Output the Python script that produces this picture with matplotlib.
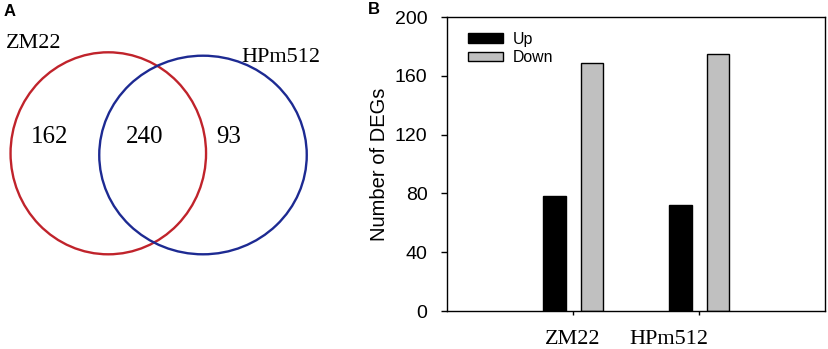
import matplotlib
matplotlib.use("Agg")
import matplotlib.pyplot as plt
from matplotlib.patches import Ellipse, Patch
import matplotlib.transforms as mtransforms

# ---- data ----
venn_sets = ["ZM22", "HPm512"]
venn_counts = [162, 240, 93]          # only ZM22, shared, only HPm512
categories = ["ZM22", "HPm512"]
up_values = [78, 72]
down_values = [169, 175]
y_ticks = [0, 40, 80, 120, 160, 200]

W, H = 829, 349
fig = plt.figure(figsize=(W / 100, H / 100), dpi=100)

serif = "Liberation Serif"
sans = "Liberation Sans"

# ---- Panel A: Venn ----
axv = fig.add_axes([0, 0, 420 / W, 1])
axv.set_xlim(0, 420)
axv.set_ylim(H, 0)
axv.axis("off")
axv.add_patch(Ellipse((108.3, 153.3), 195.5, 202, fill=False, edgecolor="#C0232B", lw=1.7))
axv.add_patch(Ellipse((203.0, 155.0), 207.5, 198.6, fill=False, edgecolor="#1D2A92", lw=1.7))
axv.text(33.5, 43, venn_sets[0], family=serif, fontsize=16, ha="center", va="center")
axv.text(280.5, 58, venn_sets[1], family=serif, fontsize=16, ha="center", va="center")
for x, c in zip([49.5, 145, 228.5], venn_counts):
    axv.text(x, 137, str(c), family=serif, fontsize=18, ha="center", va="center")
axv.text(9.5, 11, "A", family=sans, fontsize=12, fontweight="bold", ha="center", va="center")

# ---- Panel B: bars ----
ax = fig.add_axes([447 / W, (H - 311) / H, 378 / W, 294 / H])
xs = [1, 2]
w = 0.18
ax.bar([x - 0.148 for x in xs], up_values, width=w, color="black", edgecolor="black", lw=1, label="Up")
ax.bar([x + 0.152 for x in xs], down_values, width=w, color="#C0C0C0", edgecolor="black", lw=1, label="Down")
ax.set_xlim(0, 3)
ax.set_ylim(0, 200)
ax.set_yticks(y_ticks)
ax.set_yticklabels([str(t) for t in y_ticks], family=sans, fontsize=14)
ax.set_xticks(xs)
ax.set_xticklabels(categories, family=serif, fontsize=16)
ax.tick_params(axis="y", direction="out", length=4, width=1, pad=10)
ax.tick_params(axis="x", direction="out", length=3, width=1, pad=11)
# shift second label left as in the reference
lab = ax.get_xticklabels()[1]
lab.set_transform(lab.get_transform() + mtransforms.ScaledTranslation(-30 / 100, 0, fig.dpi_scale_trans))
for s in ax.spines.values():
    s.set_linewidth(1)
ax.set_ylabel("Number of DEGs", family=sans, fontsize=14.5, labelpad=4)
handles = [Patch(facecolor="black", edgecolor="black", label="Up"),
           Patch(facecolor="#C0C0C0", edgecolor="black", label="Down")]
ax.legend(handles=handles, loc="upper left", bbox_to_anchor=(0.055, 0.95), frameon=False,
          borderaxespad=0, borderpad=0, handlelength=2.2, handleheight=0.57,
          handletextpad=0.63, labelspacing=0.22, prop={"family": sans, "size": 11.4})
fig.text(374 / W, 1 - 10 / H, "B", family=sans, fontsize=12, fontweight="bold", ha="center", va="center")

fig.savefig("out.png", dpi=100)
